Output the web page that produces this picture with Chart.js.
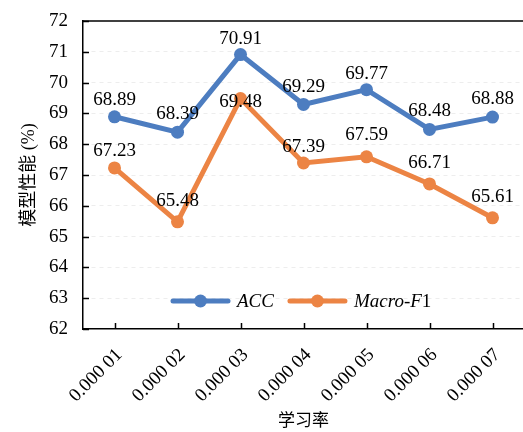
<!DOCTYPE html>
<html>
<head>
<meta charset="utf-8">
<script src="https://cdn.jsdelivr.net/npm/chart.js@4.4.1/dist/chart.umd.min.js"></script>
<style>
html, body { margin: 0; padding: 0; overflow: hidden; background: #fff; }
#wrap { width: 524px; height: 432px; }
</style>
</head>
<body>
<div id="wrap"><canvas id="c" width="524" height="432"></canvas></div>
<script>
const categories = ['0.000 01', '0.000 02', '0.000 03', '0.000 04', '0.000 05', '0.000 06', '0.000 07'];
const accValues = [68.89, 68.39, 70.91, 69.29, 69.77, 68.48, 68.88];
const f1Values = [67.23, 65.48, 69.48, 67.39, 67.59, 66.71, 65.61];
const yTicks = [62, 63, 64, 65, 66, 67, 68, 69, 70, 71, 72];

const SERIF = '"Liberation Serif", "Times New Roman", serif';
const BLUE = '#4D7DC0';
const ORANGE = '#EC8444';

// label vertical offsets (layout only)
const labelOffsets = [
  [17, 18, 16, 17, 16, 18, 18],
  [17, 21, -3, 16, 22, 21, 21]
];

const decorPlugin = {
  id: 'decor',
  beforeDatasetsDraw(chart) {
    const ctx = chart.ctx, ca = chart.chartArea;
    const xs = chart.scales.x, ys = chart.scales.y;
    ctx.save();
    ctx.strokeStyle = '#000';
    ctx.lineWidth = 1.5;
    ctx.beginPath();
    ctx.moveTo(ca.left, ca.top);
    ctx.lineTo(ca.right, ca.top);
    ctx.stroke();
    ys.ticks.forEach((t, i) => {
      const y = Math.round(ys.getPixelForTick(i)) + 0.5;
      ctx.beginPath();
      ctx.moveTo(ca.left, y);
      ctx.lineTo(ca.left + 6, y);
      ctx.stroke();
    });
    xs.ticks.forEach((t, i) => {
      const x = Math.round(xs.getPixelForTick(i)) + 0.5;
      ctx.beginPath();
      ctx.moveTo(x, ca.bottom);
      ctx.lineTo(x, ca.bottom - 6);
      ctx.stroke();
    });
    ctx.restore();
  },
  afterDatasetsDraw(chart) {
    const ctx = chart.ctx, ca = chart.chartArea;
    ctx.save();
    ctx.font = '19px ' + SERIF;
    ctx.fillStyle = '#000';
    ctx.textAlign = 'center';
    ctx.textBaseline = 'middle';
    chart.data.datasets.forEach((ds, di) => {
      const meta = chart.getDatasetMeta(di);
      meta.data.forEach((pt, i) => {
        ctx.fillText(ds.data[i].toFixed(2), pt.x, pt.y - labelOffsets[di][i]);
      });
    });
    const ly = ca.bottom - 28;
    let x = ca.left + 90;
    const lineLen = 55;
    const items = [
      { color: BLUE, parts: [['italic ', 'ACC']] },
      { color: ORANGE, parts: [['italic ', 'Macro-F'], ['', '1']] }
    ];
    items.forEach((it) => {
      ctx.strokeStyle = it.color;
      ctx.lineWidth = 5;
      ctx.lineCap = 'round';
      ctx.beginPath();
      ctx.moveTo(x, ly);
      ctx.lineTo(x + lineLen, ly);
      ctx.stroke();
      ctx.fillStyle = it.color;
      ctx.beginPath();
      ctx.arc(x + lineLen / 2, ly, 6.5, 0, Math.PI * 2);
      ctx.fill();
      x += lineLen + 9;
      ctx.fillStyle = '#000';
      ctx.textAlign = 'left';
      it.parts.forEach(p => {
        ctx.font = p[0] + '19px ' + SERIF;
        ctx.fillText(p[1], x, ly + 1);
        x += ctx.measureText(p[1]).width;
      });
      x += 16;
    });
    ctx.restore();
  }
};

new Chart(document.getElementById('c'), {
  type: 'line',
  data: {
    labels: categories,
    datasets: [
      {
        label: 'ACC', data: accValues,
        borderColor: BLUE, backgroundColor: BLUE,
        borderWidth: 5, pointRadius: 6.5, pointBorderWidth: 0,
        pointBackgroundColor: BLUE, tension: 0
      },
      {
        label: 'Macro-F1', data: f1Values,
        borderColor: ORANGE, backgroundColor: ORANGE,
        borderWidth: 5, pointRadius: 6.5, pointBorderWidth: 0,
        pointBackgroundColor: ORANGE, tension: 0
      }
    ]
  },
  options: {
    responsive: false,
    animation: false,
    devicePixelRatio: 1,
    layout: { autoPadding: false, padding: { top: 21, left: 18, right: 0, bottom: 0 } },
    plugins: { legend: { display: false }, tooltip: { enabled: false } },
    scales: {
      x: {
        offset: true,
        grid: { display: false, drawTicks: false },
        border: { display: true, color: '#000', width: 1.5 },
        ticks: {
          color: '#000', font: { family: SERIF, size: 19 },
          minRotation: 45, maxRotation: 45, padding: 15, labelOffset: 5, autoSkip: false
        },
        title: {
          display: true, text: '学习率', color: '#000',
          font: { family: SERIF + ', "Noto Sans CJK SC"', size: 17 }, padding: 0
        },
        afterFit(scale) { scale.height = 103; scale.paddingLeft = 0; scale.paddingRight = 0; }
      },
      y: {
        min: 62, max: 72,
        afterBuildTicks(scale) { scale.ticks = yTicks.map(v => ({ value: v })); },
        grid: {
          drawTicks: false,
          color: ctx => (ctx.tick && (ctx.tick.value === 62 || ctx.tick.value === 72)) ? 'rgba(0,0,0,0)' : 'rgba(0,0,0,0.07)',
          lineWidth: 1
        },
        border: { display: true, color: '#000', width: 1.5, dash: [4, 4] },
        ticks: { color: '#000', font: { family: SERIF, size: 19 }, padding: 15 },
        title: {
          display: true, text: '模型性能 (%)', color: '#000',
          font: { family: SERIF + ', "Noto Sans CJK SC"', size: 18 }, padding: 0
        },
        afterFit(scale) { scale.width = 65; scale.paddingTop = 0; scale.paddingBottom = 0; }
      }
    }
  },
  plugins: [decorPlugin]
});
</script>
</body>
</html>
